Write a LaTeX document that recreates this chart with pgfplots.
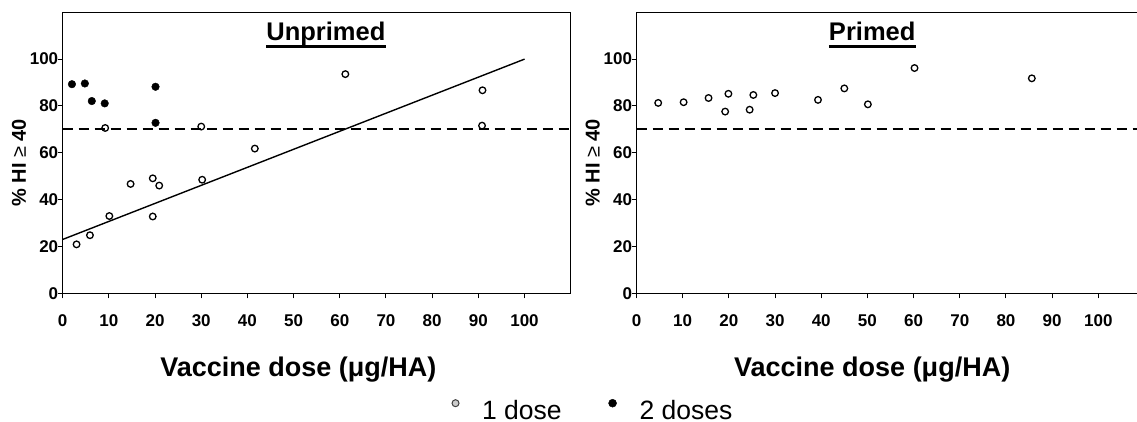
\documentclass[border=0pt]{standalone}
\usepackage{fontspec}
\setmainfont{Liberation Sans}
\usepackage{pgfplots}
\pgfplotsset{compat=1.18}

\pgfplotsset{
  panel/.style={
    scale only axis, width=508bp, height=281bp,
    xmin=0, xmax=110, ymin=0, ymax=120,
    xtick={0,10,...,100}, ytick={0,20,...,100},
    tick align=outside, xtick pos=bottom, ytick pos=left,
    major tick length=5bp,
    axis line style={line width=1.4bp},
    tick style={line width=1bp, black},
    tick label style={font=\fontsize{17bp}{19bp}\selectfont\bfseries},
    /pgf/number format/assume math mode=true,
    xticklabel style={anchor=north, yshift=-13bp},
    yticklabel style={xshift=4bp},
    xlabel={Vaccine dose (μg/HA)},
    xlabel style={at={(axis description cs:0.464,-0.2964)}, anchor=base,
      font=\fontsize{27bp}{30bp}\selectfont\bfseries},
    ylabel={\% HI {\mdseries ≥} 40},
    ylabel style={at={(axis description cs:-0.086,0.464)}, anchor=center,
      font=\fontsize{20bp}{23bp}\selectfont\bfseries},
  },
  one/.style={only marks, mark=o, mark size=3.3bp,
    mark options={line width=1.3bp, draw=black, fill=white}},
  two/.style={only marks, mark=*, mark size=3.8bp,
    mark options={draw=black, fill=black}},
  cut/.style={line width=2.2bp, dash pattern=on 10bp off 6bp, no marks},
}
\tikzset{paneltitle/.style={inner sep=0, anchor=base,
  font=\fontsize{25.5bp}{28bp}\selectfont\bfseries}}

\begin{document}
\begin{tikzpicture}
\path[use as bounding box] (-62.7bp,-128.7bp) rectangle (1074.3bp,293.3bp);
\clip (-62.7bp,-128.7bp) rectangle (1074.3bp,293.3bp);

% Unprimed
\begin{axis}[panel, at={(0,0)}, anchor=south west,
  legend style={at={(0.766,-0.416)}, anchor=west, draw=none, fill=none,
    inner sep=0pt, legend columns=2, font=\fontsize{26.5bp}{29bp}\selectfont,
    /tikz/every odd column/.append style={column sep=21bp},
    /tikz/every even column/.append style={column sep=45bp}},
  legend cell align=left,
  legend image code/.code={\draw[#1] plot coordinates {(0bp,7bp)};}]
\addplot[cut, forget plot] coordinates {(0,70) (110,70)};
\addplot[line width=1.4bp, black, no marks, forget plot] coordinates {(0,23) (100,100)};
\addplot[one, forget plot] coordinates {
  (3.0,20.9) (5.9,24.8) (9.2,70.6) (10.1,33.0) (14.7,46.7) (19.5,49.1)
  (20.9,46.0) (19.5,32.8) (30.0,71.2) (30.2,48.5) (41.6,61.8) (61.2,93.6)
  (90.9,86.7) (90.8,71.6)};
\addplot[two, forget plot] coordinates {
  (2.0,89.3) (4.8,89.6) (6.3,82.1) (9.1,81.1) (20.1,88.2) (20.1,72.8)};
\addlegendimage{only marks, mark=*, mark size=3.5bp,
  mark options={line width=1bp, draw=black!75, fill=gray!40}}
\addlegendentry{1 dose}
\addlegendimage{only marks, mark=*, mark size=4bp, mark options={fill=black}}
\addlegendentry{2 doses}
\node[paneltitle] (t1) at (axis description cs:0.518,0.898) {Unprimed};
\draw[line width=3bp] ([yshift=-6bp]t1.base west) -- ([yshift=-6bp]t1.base east);
\end{axis}

% Primed
\begin{axis}[panel, at={(573.8bp,0)}, anchor=south west]
\addplot[cut] coordinates {(0,70) (110,70)};
\addplot[one] coordinates {
  (4.7,81.3) (10.2,81.6) (15.6,83.4) (19.9,85.2) (19.2,77.6) (24.5,78.4)
  (25.3,84.7) (30.0,85.5) (39.3,82.6) (45.0,87.5) (50.1,80.7) (60.2,96.2)
  (85.6,91.8)};
\node[paneltitle] (t2) at (axis description cs:0.464,0.898) {Primed};
\draw[line width=3bp] ([yshift=-6bp]t2.base west) -- ([yshift=-6bp]t2.base east);
\end{axis}
\end{tikzpicture}
\end{document}
